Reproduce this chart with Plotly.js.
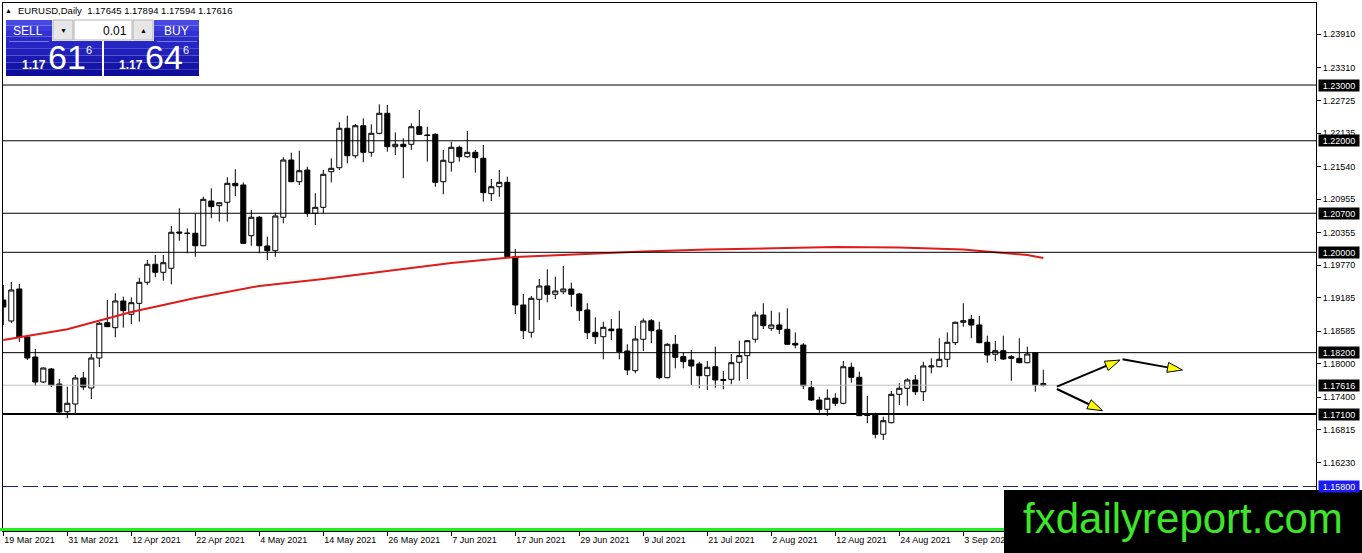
<!DOCTYPE html>
<html><head><meta charset="utf-8">
<script src="https://cdn.plot.ly/plotly-3.0.1.min.js"></script>
<style>html,body{margin:0;padding:0;background:#fff;overflow:hidden}#chart{width:1362px;height:553px}</style>
</head><body><div id="chart"></div>
<script>
const dates = [
'2021-03-19','2021-03-22','2021-03-23','2021-03-24','2021-03-25','2021-03-26','2021-03-29','2021-03-30','2021-03-31',
'2021-04-01','2021-04-02','2021-04-05','2021-04-06','2021-04-07','2021-04-08','2021-04-09','2021-04-12','2021-04-13','2021-04-14','2021-04-15','2021-04-16','2021-04-19','2021-04-20','2021-04-21','2021-04-22','2021-04-23','2021-04-26','2021-04-27','2021-04-28','2021-04-29','2021-04-30',
'2021-05-03','2021-05-04','2021-05-05','2021-05-06','2021-05-07','2021-05-10','2021-05-11','2021-05-12','2021-05-13','2021-05-14','2021-05-17','2021-05-18','2021-05-19','2021-05-20','2021-05-21','2021-05-24','2021-05-25','2021-05-26','2021-05-27','2021-05-28','2021-05-31',
'2021-06-01','2021-06-02','2021-06-03','2021-06-04','2021-06-07','2021-06-08','2021-06-09','2021-06-10','2021-06-11','2021-06-14','2021-06-15','2021-06-16','2021-06-17','2021-06-18','2021-06-21','2021-06-22','2021-06-23','2021-06-24','2021-06-25','2021-06-28','2021-06-29','2021-06-30',
'2021-07-01','2021-07-02','2021-07-05','2021-07-06','2021-07-07','2021-07-08','2021-07-09','2021-07-12','2021-07-13','2021-07-14','2021-07-15','2021-07-16','2021-07-19','2021-07-20','2021-07-21','2021-07-22','2021-07-23','2021-07-26','2021-07-27','2021-07-28','2021-07-29','2021-07-30',
'2021-08-02','2021-08-03','2021-08-04','2021-08-05','2021-08-06','2021-08-09','2021-08-10','2021-08-11','2021-08-12','2021-08-13','2021-08-16','2021-08-17','2021-08-18','2021-08-19','2021-08-20','2021-08-23','2021-08-24','2021-08-25','2021-08-26','2021-08-27','2021-08-30','2021-08-31',
'2021-09-01','2021-09-02','2021-09-03','2021-09-06','2021-09-07','2021-09-08','2021-09-09','2021-09-10','2021-09-13','2021-09-14','2021-09-15','2021-09-16','2021-09-17'];

const openP = [
1.19144,1.18768,1.19342,1.18481,1.18122,1.17674,1.17907,1.17638,1.17141,1.17279,
1.17746,1.17566,1.18104,1.18737,1.18648,1.19127,1.18888,1.19085,1.19462,1.19785,
1.19641,1.19713,1.20364,1.20346,1.20341,1.20118,1.20920,1.20836,1.20897,1.21237,
1.21207,1.20298,1.20628,1.20113,1.20029,1.20628,1.21655,1.21266,1.21476,1.20699,
1.20807,1.21445,1.21517,1.22224,1.21732,1.22270,1.21793,1.22134,1.22493,1.21894,
1.21937,1.21937,1.22252,1.22104,1.22116,1.21266,1.21614,1.21883,1.21714,1.21793,
1.21686,1.21051,1.21176,1.21255,1.19921,1.19055,1.18565,1.19157,1.19396,1.19247,
1.19293,1.19342,1.19252,1.18965,1.18565,1.18486,1.18624,1.18624,1.18230,1.17877,
1.18440,1.18773,1.18607,1.17751,1.18350,1.18128,1.18068,1.17997,1.17787,1.17948,
1.17719,1.17722,1.18027,1.18146,1.18440,1.18875,1.18637,1.18696,1.18619,1.18368,
1.18337,1.17572,1.17351,1.17184,1.17382,1.17292,1.17938,1.17758,1.17082,1.17082,
1.16736,1.16944,1.17453,1.17561,1.17710,1.17500,1.17943,1.17948,1.18081,1.18379,
1.18745,1.18798,1.18696,1.18386,1.18171,1.18235,1.18128,1.18099,1.18020,1.18199,
1.17645];
const highP = [
1.19413,1.19467,1.19431,1.18499,1.18266,1.17935,1.17925,1.17728,1.17590,1.17799,
1.17853,1.18176,1.18750,1.19144,1.19265,1.19204,1.19193,1.19544,1.19862,1.19951,
1.19951,1.20472,1.20789,1.20430,1.20699,1.20997,1.21148,1.20895,1.21345,1.21488,
1.21255,1.20759,1.20651,1.20280,1.20710,1.21704,1.21786,1.21822,1.21535,1.21058,
1.21476,1.21686,1.22331,1.22450,1.22301,1.22403,1.22296,1.22654,1.22642,1.22152,
1.22044,1.22313,1.22552,1.22252,1.22134,1.21835,1.21983,1.21912,1.22175,1.21835,
1.21924,1.21315,1.21476,1.21356,1.20059,1.19252,1.19216,1.19521,1.19695,1.19562,
1.19754,1.19455,1.19275,1.19085,1.18834,1.18755,1.18804,1.18953,1.18350,1.18678,
1.18816,1.18804,1.18755,1.18368,1.18517,1.18207,1.18248,1.18038,1.18051,1.18307,
1.17871,1.18176,1.18415,1.18427,1.18935,1.19085,1.18953,1.18924,1.18996,1.18565,
1.18368,1.17692,1.17410,1.17543,1.17471,1.18051,1.18020,1.17859,1.17423,1.17123,
1.17052,1.17512,1.17651,1.17740,1.17799,1.18038,1.18099,1.18458,1.18565,1.18755,
1.19085,1.18875,1.18858,1.18504,1.18409,1.18504,1.18158,1.18458,1.18307,1.18210,
1.17894];
const lowP = [
1.18696,1.18732,1.18391,1.18068,1.17602,1.17656,1.17584,1.17118,1.17023,1.17118,
1.17530,1.17369,1.17943,1.18660,1.18476,1.18648,1.18714,1.18755,1.19413,1.19552,
1.19491,1.19426,1.20208,1.19982,1.19921,1.20110,1.20610,1.20549,1.20549,1.21010,
1.20149,1.20118,1.19982,1.19862,1.19921,1.20520,1.21258,1.21207,1.20638,1.20490,
1.20699,1.21255,1.21476,1.21596,1.21686,1.21614,1.21714,1.22116,1.21804,1.21745,
1.21327,1.21835,1.22104,1.21625,1.21176,1.21040,1.21445,1.21625,1.21697,1.21428,
1.20907,1.20920,1.20997,1.19915,1.18893,1.18445,1.18468,1.18786,1.19103,1.19162,
1.19247,1.19024,1.18773,1.18445,1.18355,1.18081,1.18427,1.18081,1.17799,1.17830,
1.18230,1.18368,1.17722,1.17740,1.17920,1.17920,1.17620,1.17561,1.17530,1.17572,
1.17543,1.17633,1.17697,1.17728,1.18379,1.18624,1.18589,1.18535,1.18337,1.18278,
1.17548,1.17333,1.17123,1.17064,1.17243,1.17274,1.17661,1.17065,1.16933,1.16664,
1.16634,1.16933,1.17261,1.17249,1.17441,1.17333,1.17830,1.17938,1.17938,1.18337,
1.18666,1.18458,1.18368,1.18020,1.18051,1.18068,1.17697,1.18009,1.18009,1.17500,
1.17594];
const closeP = [
1.19019,1.19324,1.18481,1.18104,1.17674,1.17925,1.17620,1.17136,1.17292,1.17746,
1.17584,1.18104,1.18727,1.18666,1.19127,1.18953,1.19096,1.19462,1.19785,1.19641,
1.19813,1.20359,1.20346,1.20337,1.20118,1.20950,1.20818,1.20889,1.21237,1.21194,
1.20161,1.20628,1.20118,1.20029,1.20651,1.21655,1.21266,1.21463,1.20699,1.20807,
1.21399,1.21506,1.22224,1.21732,1.22270,1.21793,1.22134,1.22493,1.21894,1.21937,
1.21894,1.22252,1.22116,1.22095,1.21255,1.21650,1.21883,1.21714,1.21793,1.21697,
1.21069,1.21176,1.21255,1.19921,1.19055,1.18594,1.19175,1.19396,1.19247,1.19306,
1.19342,1.19247,1.18953,1.18558,1.18486,1.18655,1.18594,1.18217,1.17889,1.18445,
1.18768,1.18594,1.17751,1.18350,1.18117,1.18038,1.17961,1.17787,1.17938,1.17710,
1.17704,1.18020,1.18146,1.18415,1.18875,1.18684,1.18696,1.18619,1.18350,1.18337,
1.17608,1.17351,1.17184,1.17382,1.17292,1.17948,1.17758,1.17070,1.17073,1.16736,
1.16980,1.17453,1.17561,1.17710,1.17500,1.17961,1.17961,1.18081,1.18386,1.18745,
1.18773,1.18696,1.18379,1.18158,1.18235,1.18086,1.18099,1.18020,1.18176,1.17620,
1.17616];

const maDates = ['2021-03-19','2021-03-31','2021-04-12','2021-04-22','2021-05-04','2021-05-14','2021-05-26','2021-06-07','2021-06-17','2021-06-29','2021-07-09','2021-07-21','2021-08-02','2021-08-12','2021-08-24','2021-09-03','2021-09-15','2021-09-17'];
const maValues = [1.18427,1.18619,1.18929,1.19180,1.19396,1.19521,1.19665,1.19808,1.19916,1.19969,1.20014,1.20050,1.20077,1.20095,1.20086,1.20050,1.19951,1.19898];

const labelDates = ['2021-03-19','2021-03-31','2021-04-12','2021-04-22','2021-05-04','2021-05-14','2021-05-26','2021-06-07','2021-06-17','2021-06-29','2021-07-09','2021-07-21','2021-08-02','2021-08-12','2021-08-24','2021-09-03'];
const labelTexts = ['19 Mar 2021','31 Mar 2021','12 Apr 2021','22 Apr 2021','4 May 2021','14 May 2021','26 May 2021','7 Jun 2021','17 Jun 2021','29 Jun 2021','9 Jul 2021','21 Jul 2021','2 Aug 2021','12 Aug 2021','24 Aug 2021','3 Sep 2021'];
const priceTicks = [1.23910,1.23310,1.22725,1.22135,1.21540,1.20955,1.20355,1.19770,1.19185,1.18585,1.18000,1.17400,1.16815,1.16230];

const levelLines = [1.23000,1.22000,1.20700,1.20000,1.18200];
const supportLevel = 1.17100;
const targetLevel = 1.15800;
const bidPrice = 1.17616;
const askPrice = 1.17646;
const arrowFrom = [[131.7,1.17590],[139.9,1.18081],[131.7,1.17548]];
const arrowTo   = [[139.6,1.18068],[147.4,1.17889],[137.4,1.17159]];

// ---- layout geometry ----
const W = 1362, H = 553, ML = 3, MR = 46, MT = 3, MB = 22;
const PW = W - ML - MR, PH = H - MT - MB;
const xRange = [-0.0375, -0.0375 + PW / 8];
const yRange = [1.150017, 1.244709];
const fx = px => (px - ML) / PW;
const fy = py => (MT + PH - py) / PH;
const FONT = 'Liberation Sans, Arial, sans-serif';

const shapes = [];
const annotations = [];

levelLines.forEach(v => shapes.push({type:'line', xref:'paper', x0:0, x1:1, yref:'y', y0:v, y1:v, line:{color:'#000', width:1}, layer:'above'}));
shapes.push({type:'line', xref:'paper', x0:0, x1:1, yref:'y', y0:supportLevel, y1:supportLevel, line:{color:'#000', width:2}, layer:'above'});
shapes.push({type:'line', xref:'paper', x0:0, x1:1, yref:'y', y0:bidPrice, y1:bidPrice, line:{color:'#c0c0c0', width:1}, layer:'above'});
shapes.push({type:'line', xref:'paper', x0:0, x1:1, yref:'y', y0:targetLevel, y1:targetLevel, line:{color:'#1a1a8c', width:1, dash:'15px,5px'}, layer:'above'});

// arrows
const pxX = PW / (xRange[1] - xRange[0]);
const pxY = PH / (yRange[1] - yRange[0]);
arrowFrom.forEach((f, i) => {
  const t = arrowTo[i];
  const dx = (t[0] - f[0]) * pxX, dy = (t[1] - f[1]) * pxY;
  const len = Math.hypot(dx, dy), ux = dx / len, uy = dy / len;
  const L = 15, Wd = 10;
  const bx = t[0] - L * ux / pxX, by = t[1] - L * uy / pxY;
  const nx = -uy, ny = ux;
  const c1 = [bx + Wd / 2 * nx / pxX, by + Wd / 2 * ny / pxY];
  const c2 = [bx - Wd / 2 * nx / pxX, by - Wd / 2 * ny / pxY];
  shapes.push({type:'line', xref:'x', yref:'y', x0:f[0], y0:f[1], x1:bx, y1:by, line:{color:'#000', width:2}, layer:'above'});
  shapes.push({type:'path', xref:'x', yref:'y', path:`M${t[0]},${t[1]} L${c1[0]},${c1[1]} L${c2[0]},${c2[1]} Z`, fillcolor:'#ffff00', line:{color:'#000', width:1}, layer:'above'});
});

// panel helpers
function rect(x0, y0, x1, y1, fill, line) {
  shapes.push({type:'rect', xref:'paper', yref:'paper', x0:fx(x0), x1:fx(x1), y0:fy(y1), y1:fy(y0), fillcolor:fill, line:{color:line || fill, width: line ? 1 : 0}, layer:'above'});
}
function text(t, x, y, size, color, xanchor, extra) {
  annotations.push(Object.assign({xref:'paper', yref:'paper', x:fx(x), y:fy(y), text:t, showarrow:false, xanchor:xanchor || 'center', yanchor:'middle', font:{family:FONT, size:size, color:color}}, extra || {}));
}

// one-click trading panel
const topBands = ['#4848e4','#3c3cdc','#3232d2','#2a2ac8'];
const botBands = ['#2626c4','#2020ba','#1a1ab0','#1414a6','#0e0e9c'];
[[6,102],[104,199]].forEach(([a,b]) => {
  topBands.forEach((c, i) => rect(a, 20 + i * 5.5, b, 25.5 + i * 5.5, c));
  botBands.forEach((c, i) => rect(a, 42 + i * 6.8, b, 48.8 + i * 6.8, c));
});
rect(9, 41, 49, 42, '#7a7aee');
rect(157, 41, 197, 42, '#7a7aee');
rect(52, 19, 154, 41, '#ffffff');
rect(53, 20, 73, 40, '#e6e6e6', '#b4b4b4');
rect(74, 20, 132, 40, '#ffffff', '#b4b4b4');
rect(133, 20, 153, 40, '#e6e6e6', '#b4b4b4');
text('SELL', 28, 31, 12, '#ffffff');
text('BUY', 176, 31, 12, '#ffffff');
text('0.01', 129, 31, 12, '#000000', 'right');
text('▼', 63, 31, 7, '#000000');
text('▲', 143, 30, 7, '#000000');
const bidS = bidPrice.toFixed(5), askS = askPrice.toFixed(5);
text('<b>' + bidS.slice(0,4) + '</b>', 20, 65, 12, '#ffffff', 'left');
text(bidS.slice(4,6), 46, 57, 34, '#ffffff', 'left');
text(bidS.slice(6), 84, 50, 11, '#ffffff', 'left');
text('<b>' + askS.slice(0,4) + '</b>', 117, 65, 12, '#ffffff', 'left');
text(askS.slice(4,6), 143, 57, 34, '#ffffff', 'left');
text(askS.slice(6), 181, 50, 11, '#ffffff', 'left');

// header
const n = closeP.length - 1;
text('▲', 8, 11, 7, '#000000');
text('EURUSD,Daily  ' + [openP[n], highP[n], lowP[n], closeP[n]].map(v => v.toFixed(5)).join(' '), 16, 11, 9.5, '#000000', 'left');

// price tags on right axis
function tag(v, bg) {
  annotations.push({xref:'paper', yref:'y', x:1, y:v, xanchor:'left', yanchor:'middle', xshift:2, text:v.toFixed(5), showarrow:false, bgcolor:bg, width:38, height:9, borderpad:1, font:{family:FONT, size:9, color:'#ffffff'}});
}
levelLines.forEach(v => tag(v, '#000000'));
tag(closeP[n], '#000000');
tag(supportLevel, '#000000');
tag(targetLevel, '#1c1cf0');

// bottom green line & watermark
rect(0, 528, 1316, 531, '#1ef01e');
rect(1004, 490, 1362, 553, '#000000');
text('fxdailyreport.com', 1182.5, 518, 42, '#3ee62a');

const traces = [
  {type:'candlestick', x:dates, open:openP, high:highP, low:lowP, close:closeP,
   increasing:{line:{color:'#000', width:1}, fillcolor:'#ffffff'},
   decreasing:{line:{color:'#000', width:1}, fillcolor:'#000000'},
   whiskerwidth:0, hoverinfo:'skip', showlegend:false},
  {type:'scatter', mode:'lines', x:maDates, y:maValues, line:{color:'#e01b1b', width:2}, hoverinfo:'skip', showlegend:false}
];

const layout = {
  width:W, height:H, margin:{l:ML, r:MR, t:MT, b:MB},
  paper_bgcolor:'#ffffff', plot_bgcolor:'#ffffff',
  showlegend:false, boxgap:0.1, boxgroupgap:0.3,
  xaxis:{type:'category', range:xRange, rangeslider:{visible:false}, showgrid:false, zeroline:false,
    showline:true, mirror:true, linecolor:'#000', linewidth:1,
    tickmode:'array', tickvals:labelDates, ticktext:labelTexts, ticks:'outside', ticklen:4, tickcolor:'#000',
    ticklabelposition:'outside right', tickangle:0, tickfont:{family:FONT, size:9, color:'#000'}, fixedrange:true},
  yaxis:{side:'right', range:yRange, showgrid:false, zeroline:false,
    showline:true, mirror:true, linecolor:'#000', linewidth:1,
    tickmode:'array', tickvals:priceTicks, ticktext:priceTicks.map(v => v.toFixed(5)), ticks:'outside', ticklen:4, tickcolor:'#000',
    tickfont:{family:FONT, size:9, color:'#000'}, fixedrange:true},
  shapes:shapes, annotations:annotations
};

Plotly.newPlot('chart', traces, layout, {staticPlot:true, displayModeBar:false});
</script>
</body></html>
